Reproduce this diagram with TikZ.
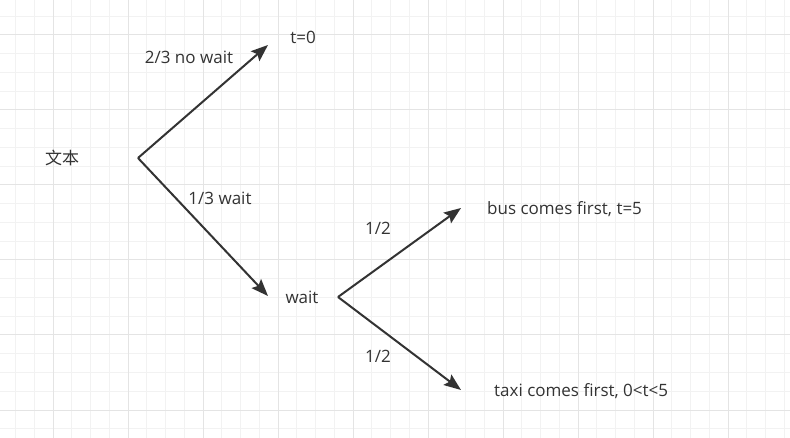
\documentclass[tikz,border=0pt]{standalone}
\usepackage{fontspec}
\setmainfont{Open Sans}
\newfontfamily\cjk{Noto Sans CJK SC}
\usetikzlibrary{arrows.meta}
\definecolor{ink}{HTML}{333333}
\definecolor{gridminor}{HTML}{F2F2F2}
\definecolor{gridmajor}{HTML}{E4E4E4}
\tikzset{
  lbl/.style={text=ink, font=\fontsize{17}{20}\selectfont, inner sep=0pt},
  conn/.style={draw=ink, line width=2pt, -{Stealth[length=17pt,width=13pt,inset=3pt]}}
}
\begin{document}
\begin{tikzpicture}[x=1pt,y=-1pt]
\useasboundingbox (0,0) rectangle (790,438);
\fill[white] (0,0) rectangle (790,438);
% minor grid
\foreach \i in {0,...,43} {
  \pgfmathsetmacro\xx{-3.25+18.75*\i}
  \draw[gridminor, line width=1pt] (\xx,0) -- (\xx,438);
}
\foreach \i in {0,...,24} {
  \pgfmathsetmacro\yy{-2.5+18.75*\i}
  \draw[gridminor, line width=1pt] (0,\yy) -- (790,\yy);
}
% major grid
\foreach \i in {0,...,10} {
  \pgfmathsetmacro\xx{-22+75*\i}
  \draw[gridmajor, line width=1pt] (\xx,0) -- (\xx,438);
}
\foreach \i in {0,...,6} {
  \pgfmathsetmacro\yy{-40+75*\i}
  \draw[gridmajor, line width=1pt] (0,\yy) -- (790,\yy);
}
% texts
\node[lbl] (root) at (62,158) {\cjk 文本};
\node[lbl] (t0) at (303,37) {t=0};
\node[lbl] (nowait) at (189,57) {2/3 no wait};
\node[lbl] (waitp) at (220,198) {1/3 wait};
\node[lbl] (wait) at (302,297) {wait};
\node[lbl] (half1) at (378,228) {1/2};
\node[lbl] (half2) at (378,356) {1/2};
\node[lbl, anchor=west] (bus) at (487,209) {bus comes first, t=5};
\node[lbl, anchor=west] (taxi) at (494,391) {taxi comes first, 0<t<5};
% connector points
\coordinate (o1) at (138,158);
\coordinate (e1) at (268,45);
\coordinate (e2) at (268,296);
\coordinate (o2) at (338,297);
\coordinate (e3) at (461,208);
\coordinate (e4) at (461,390);
\draw[conn] (o1) -- (e1);
\draw[conn] (o1) -- (e2);
\draw[conn] (o2) -- (e3);
\draw[conn] (o2) -- (e4);
\end{tikzpicture}
\end{document}
